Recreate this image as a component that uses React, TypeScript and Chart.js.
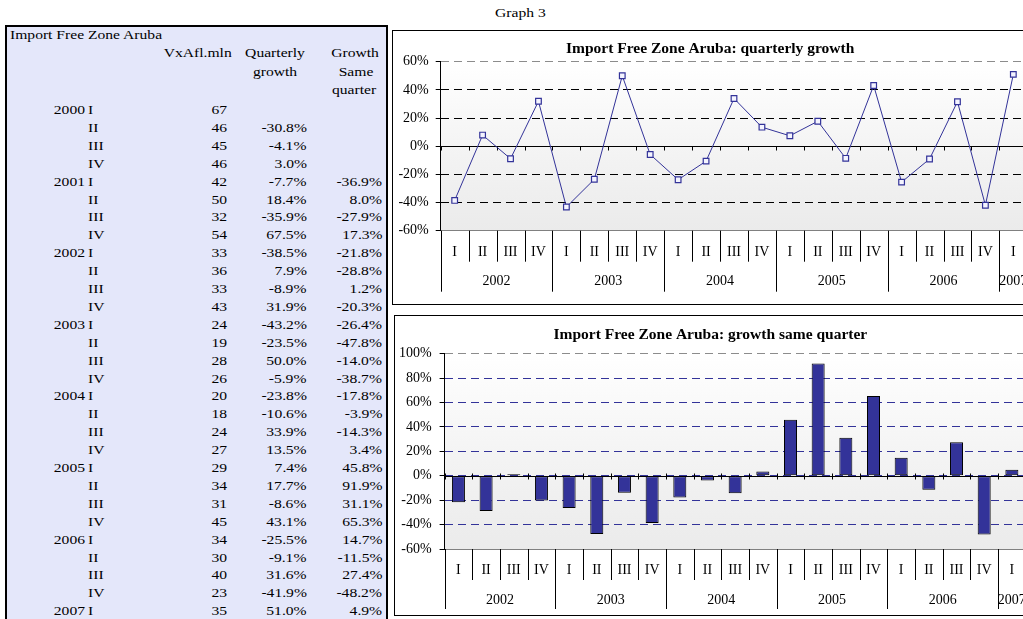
import React, { useEffect, useRef } from "react";
import { Chart, registerables } from "chart.js";

Chart.register(...registerables);

const SERIF = '"Liberation Serif", "Times New Roman", serif';

// ---------- data ----------
const tableYears = ["2000", "2001", "2002", "2003", "2004", "2005", "2006", "2007"];
const tableQuarters = [
  "I", "II", "III", "IV", "I", "II", "III", "IV", "I", "II", "III", "IV",
  "I", "II", "III", "IV", "I", "II", "III", "IV", "I", "II", "III", "IV",
  "I", "II", "III", "IV", "I",
];
const tableValues = [
  67, 46, 45, 46, 42, 50, 32, 54, 33, 36, 33, 43, 24, 19, 28, 26, 20, 18, 24, 27,
  29, 34, 31, 45, 34, 30, 40, 23, 35,
];
const tableQuarterly: (number | null)[] = [
  null, -30.8, -4.1, 3.0, -7.7, 18.4, -35.9, 67.5, -38.5, 7.9, -8.9, 31.9,
  -43.2, -23.5, 50.0, -5.9, -23.8, -10.6, 33.9, 13.5, 7.4, 17.7, -8.6, 43.1,
  -25.5, -9.1, 31.6, -41.9, 51.0,
];
const tableSameQuarter: (number | null)[] = [
  null, null, null, null, -36.9, 8.0, -27.9, 17.3, -21.8, -28.8, 1.2, -20.3,
  -26.4, -47.8, -14.0, -38.7, -17.8, -3.9, -14.3, 3.4, 45.8, 91.9, 31.1, 65.3,
  14.7, -11.5, 27.4, -48.2, 4.9,
];

const chartYears = ["2002", "2003", "2004", "2005", "2006", "2007"];
const chartQuarters = tableQuarters.slice(8);
const quarterlyGrowth = tableQuarterly.slice(8) as number[];
const sameQuarterGrowth = tableSameQuarter.slice(8) as number[];

// ---------- helpers ----------
const SX = 1.2;
function Txt(props: { x: number; y: number; align: "left" | "right" | "center"; children: any; size?: number; bold?: boolean }) {
  const { x, y, align, children, size = 13, bold } = props;
  const base: any = {
    position: "absolute",
    top: y - 9,
    height: 18,
    lineHeight: "18px",
    whiteSpace: "nowrap",
    fontSize: size,
    fontFamily: SERIF,
    fontWeight: bold ? "bold" : "normal",
    color: "#000",
  };
  if (align === "right") {
    return <span style={{ ...base, right: 1023 - x, transform: `scaleX(${SX})`, transformOrigin: "right center" }}>{children}</span>;
  }
  if (align === "center") {
    return <span style={{ ...base, left: x, transform: `translateX(-50%) scaleX(${SX})`, transformOrigin: "center center" }}>{children}</span>;
  }
  return <span style={{ ...base, left: x, transform: `scaleX(${SX})`, transformOrigin: "left center" }}>{children}</span>;
}

const fmt = (v: number) => v.toFixed(1) + "%";

type Deco = {
  years: string[];
  qSepLen: number;
  ySepLen: number;
  yearOffset: number;
  tickUp: number;
  tickDown: number;
};

function makeDeco(d: Deco) {
  return {
    id: "excelDeco",
    beforeDraw(chart: any) {
      const { ctx, chartArea: a } = chart;
      const g = ctx.createLinearGradient(0, a.top, 0, a.bottom);
      g.addColorStop(0, "#ffffff");
      g.addColorStop(0.55, "#f3f3f3");
      g.addColorStop(1, "#ebebeb");
      ctx.save();
      ctx.fillStyle = g;
      ctx.fillRect(a.left, a.top, a.right - a.left, a.bottom - a.top);
      ctx.restore();
    },
    beforeDatasetsDraw(chart: any) {
      const { ctx, chartArea: a } = chart;
      const xs = chart.scales.x;
      const ys = chart.scales.y;
      const y0 = Math.round(ys.getPixelForValue(0)) + 0.5;
      const n = chart.data.labels.length;
      const half = (xs.getPixelForValue(1) - xs.getPixelForValue(0)) / 2;
      ctx.save();
      ctx.strokeStyle = "#000";
      ctx.lineWidth = 1;
      ctx.setLineDash([]);
      ctx.beginPath();
      ctx.moveTo(a.left, y0);
      ctx.lineTo(a.right, y0);
      for (let i = 0; i <= n; i++) {
        const x = Math.round(xs.getPixelForValue(i) - half) + 0.5;
        ctx.moveTo(x, y0 - d.tickUp);
        ctx.lineTo(x, y0 + d.tickDown);
      }
      ctx.stroke();
      ctx.restore();
    },
    afterDraw(chart: any) {
      const { ctx, chartArea: a } = chart;
      const xs = chart.scales.x;
      const n = chart.data.labels.length;
      const half = (xs.getPixelForValue(1) - xs.getPixelForValue(0)) / 2;
      const b = (i: number) => xs.getPixelForValue(i) - half;
      ctx.save();
      ctx.strokeStyle = "#000";
      ctx.lineWidth = 1;
      ctx.setLineDash([]);
      ctx.beginPath();
      for (let i = 0; i <= n; i++) {
        const x = Math.round(b(i)) + 0.5;
        const len = i % 4 === 0 ? d.ySepLen : d.qSepLen;
        ctx.moveTo(x, a.bottom);
        ctx.lineTo(x, a.bottom + len);
      }
      ctx.stroke();
      ctx.fillStyle = "#000";
      ctx.font = `14px ${SERIF}`;
      ctx.textAlign = "center";
      ctx.textBaseline = "middle";
      d.years.forEach((yr, k) => {
        const s = 4 * k;
        const e = Math.min(4 * k + 3, n - 1);
        const cx = (b(s) + b(e + 1)) / 2;
        ctx.fillText(yr, cx, a.bottom + d.yearOffset);
      });
      ctx.restore();
    },
  };
}

function ChartBox(props: { left: number; top: number; width: number; height: number; build: () => any }) {
  const { left, top, width, height, build } = props;
  const ref = useRef<HTMLCanvasElement>(null);
  useEffect(() => {
    const chart = new Chart(ref.current as HTMLCanvasElement, build());
    return () => chart.destroy();
  }, []);
  const iw = width - 2;
  const ih = height - 2;
  return (
    <div
      style={{
        position: "absolute",
        left,
        top,
        width,
        height,
        border: "1px solid #000",
        boxSizing: "border-box",
        background: "#fff",
      }}
    >
      <canvas ref={ref} width={iw} height={ih} style={{ display: "block", width: iw, height: ih }} />
    </div>
  );
}

function yScale(min: number, max: number, gridColor: string, width: number, pad: number) {
  return {
    min,
    max,
    ticks: {
      stepSize: 20,
      callback: (v: any) => v + "%",
      font: { family: SERIF, size: 14 },
      color: "#000",
      padding: pad,
    },
    grid: {
      color: (c: any) => (c.tick && c.tick.value === max ? "#8c8c8c" : gridColor),
      lineWidth: 1,
      drawTicks: true,
      tickLength: 5,
      tickColor: "#000",
    },
    border: { display: true, color: "#000", dash: [8, 5] },
    afterFit: (s: any) => {
      s.width = width;
    },
  };
}

function xScale(height: number, offset: boolean) {
  return {
    type: "category",
    offset,
    grid: { display: false, drawTicks: false, tickLength: 0 },
    border: { display: true, color: "#808080" },
    ticks: {
      autoSkip: false,
      maxRotation: 0,
      minRotation: 0,
      font: { family: SERIF, size: 14 },
      color: "#000",
      padding: 13,
    },
    afterFit: (s: any) => {
      s.height = height;
    },
  };
}

function titleOpts(text: string, top: number, bottom: number) {
  return {
    display: true,
    text,
    color: "#000",
    font: { family: SERIF, size: 15.5, weight: "bold", lineHeight: 1.2 },
    padding: { top, bottom },
  };
}

function buildLine() {
  return {
    type: "line",
    data: {
      labels: chartQuarters,
      datasets: [
        {
          data: quarterlyGrowth,
          borderColor: "#333399",
          borderWidth: 1,
          pointStyle: "rect",
          pointRadius: 4,
          pointBorderColor: "#333399",
          pointBackgroundColor: "#f4f4ff",
          pointBorderWidth: 1.2,
          tension: 0,
          clip: false,
        },
      ],
    },
    options: {
      responsive: false,
      animation: false,
      devicePixelRatio: 1,
      layout: { padding: { left: 0, right: 5.7, top: 0, bottom: 0 } },
      plugins: {
        legend: { display: false },
        tooltip: { enabled: false },
        title: titleOpts("Import Free Zone Aruba: quarterly growth", 8.7, 3.4),
      },
      scales: {
        x: xScale(73.3, true),
        y: yScale(-60, 60, "#000000", 47.7, 7),
      },
    },
    plugins: [makeDeco({ years: chartYears, qSepLen: 31, ySepLen: 61, yearOffset: 51, tickUp: 0, tickDown: 4 })],
  };
}

function buildBar() {
  return {
    type: "bar",
    data: {
      labels: chartQuarters,
      datasets: [
        {
          data: sameQuarterGrowth,
          backgroundColor: "#333399",
          borderColor: "#000",
          borderWidth: 1,
          borderSkipped: false,
          categoryPercentage: 1,
          barPercentage: 0.47,
        },
      ],
    },
    options: {
      responsive: false,
      animation: false,
      devicePixelRatio: 1,
      layout: { padding: { left: 0, right: 7.3, top: 0, bottom: 0 } },
      plugins: {
        legend: { display: false },
        tooltip: { enabled: false },
        title: titleOpts("Import Free Zone Aruba: growth same quarter", 9.7, 9.4),
      },
      scales: {
        x: xScale(66, true),
        y: yScale(-60, 100, "#333399", 49.6, 8),
      },
    },
    plugins: [makeDeco({ years: chartYears, qSepLen: 31, ySepLen: 60, yearOffset: 51.7, tickUp: 3, tickDown: 3 })],
  };
}

export default function App() {
  return (
    <div
      style={{
        position: "fixed",
        left: 0,
        top: 0,
        width: 1023,
        height: 619,
        overflow: "hidden",
        background: "#fff",
        fontFamily: SERIF,
      }}
    >
      {/* table panel */}
      <div
        style={{
          position: "absolute",
          left: 5,
          top: 25,
          width: 383,
          height: 620,
          background: "#e4e7fa",
          borderLeft: "2px solid #000",
          borderTop: "2px solid #000",
          borderRight: "2px solid #000",
          boxSizing: "border-box",
        }}
      />
      <Txt x={10} y={35} align="left">Import Free Zone Aruba</Txt>
      <Txt x={231.5} y={53.3} align="right">VxAfl.mln</Txt>
      <Txt x={274.5} y={53.3} align="center">Quarterly</Txt>
      <Txt x={274.5} y={71.7} align="center">growth</Txt>
      <Txt x={355} y={53.3} align="center">Growth</Txt>
      <Txt x={356} y={71.7} align="center">Same</Txt>
      <Txt x={354} y={90} align="center">quarter</Txt>
      {tableQuarters.map((q, i) => {
        const y = 110 + 17.9 * i;
        const qg = tableQuarterly[i];
        const sg = tableSameQuarter[i];
        return (
          <React.Fragment key={i}>
            {q === "I" && (
              <Txt x={85} y={y} align="right">
                {tableYears[Math.floor(i / 4)]}
              </Txt>
            )}
            <Txt x={88.3} y={y} align="left">{q}</Txt>
            <Txt x={227.3} y={y} align="right">{tableValues[i]}</Txt>
            {qg !== null && <Txt x={306.7} y={y} align="right">{fmt(qg)}</Txt>}
            {sg !== null && <Txt x={382.3} y={y} align="right">{fmt(sg)}</Txt>}
          </React.Fragment>
        );
      })}

      <Txt x={495} y={13} align="left">Graph 3</Txt>

      <ChartBox left={392} top={30} width={642} height={275} build={buildLine} />
      <ChartBox left={394} top={315} width={640} height={301} build={buildBar} />
    </div>
  );
}
